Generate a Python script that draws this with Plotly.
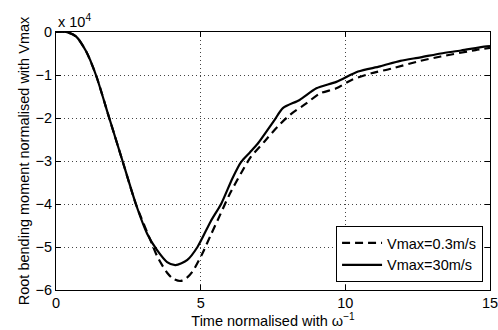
import plotly.graph_objects as go

# Time normalised with omega^-1
t_slow = [0, 0.35, 0.69, 1.04, 1.38, 1.84, 2.30, 2.76, 3.3, 3.5, 3.84, 4.05, 4.3, 4.5,
          4.71, 5.06, 5.35, 5.64, 5.98, 6.39, 6.74, 7.2, 7.66, 8.1, 8.65, 9.12, 9.69,
          10.2, 10.9, 11.6, 12.6, 13.3, 14.5, 15]
# Root bending moment (x 10^4), Vmax = 0.3 m/s
m_slow = [0, 0, -0.1, -0.45, -1.0, -2.0, -3.0, -4.0, -4.9, -5.22, -5.6, -5.74, -5.79, -5.73,
          -5.58, -5.15, -4.72, -4.3, -3.8, -3.29, -2.9, -2.55, -2.2, -1.92, -1.66, -1.43, -1.31,
          -1.12, -0.96, -0.85, -0.67, -0.57, -0.42, -0.37]

t_fast = [0, 0.35, 0.69, 1.04, 1.38, 1.84, 2.30, 2.76, 3.15, 3.5, 3.84, 4.13, 4.54, 4.89,
          5.35, 5.72, 6.1, 6.4, 6.7, 6.97, 7.55, 7.84, 8.42, 9.0, 9.69, 10.44, 11.2, 11.9, 12.6,
          13.3, 14.0, 14.8, 15]
# Root bending moment (x 10^4), Vmax = 30 m/s
m_fast = [0, 0, -0.1, -0.45, -1.0, -2.0, -3.0, -4.0, -4.69, -5.08, -5.35, -5.42, -5.3, -5.0,
          -4.4, -3.98, -3.4, -3.02, -2.8, -2.6, -2.05, -1.77, -1.58, -1.31, -1.16, -0.92, -0.8, -0.67, -0.59,
          -0.5, -0.43, -0.34, -0.33]

series_names = ["Vmax=0.3m/s", "Vmax=30m/s"]
x_ticks = [0, 5, 10, 15]
y_ticks = [0, -1, -2, -3, -4, -5, -6]

FONT = "Liberation Sans, Arial, Helvetica, sans-serif"
FS = 14.5

fig = go.Figure()
fig.add_trace(go.Scatter(x=t_slow, y=m_slow, mode="lines", name=series_names[0],
                         line=dict(color="black", width=2.2, dash="8px,5px",
                                   shape="spline", smoothing=0.7)))
fig.add_trace(go.Scatter(x=t_fast, y=m_fast, mode="lines", name=series_names[1],
                         line=dict(color="black", width=2.2, shape="spline", smoothing=0.7)))

axis_common = dict(showline=True, linecolor="black", linewidth=1, mirror="ticks",
                   ticks="inside", ticklen=5, tickcolor="black", tickwidth=1,
                   showgrid=True, gridcolor="#444", griddash="1px,3px", gridwidth=1,
                   zeroline=False, ticklabeloverflow="allow", automargin=False,
                   tickfont=dict(family=FONT, size=FS, color="black"))

fig.update_xaxes(range=[0, 15], tickvals=x_ticks,
                 title=dict(text="Time normalised with ω<sup>−1</sup>",
                            font=dict(family=FONT, size=FS, color="black"), standoff=0),
                 **axis_common)
fig.update_yaxes(range=[-6, 0], tickvals=y_ticks,
                 title=dict(text="Root bending moment normalised with Vmax",
                            font=dict(family=FONT, size=FS, color="black"), standoff=2),
                 **axis_common)

fig.add_annotation(text="x 10<sup>4</sup>", xref="paper", yref="paper", x=0, y=1,
                   xanchor="left", yanchor="bottom", showarrow=False, yshift=0,
                   font=dict(family=FONT, size=FS, color="black"))

fig.update_layout(
    width=498, height=330,
    margin=dict(l=56, r=8, t=32, b=40, autoexpand=False),
    plot_bgcolor="white", paper_bgcolor="white",
    font=dict(family=FONT, size=FS, color="black"),
    legend=dict(x=0.984, y=0.031, xanchor="right", yanchor="bottom",
                bgcolor="white", bordercolor="black", borderwidth=1,
                font=dict(family=FONT, size=FS, color="black"),
                tracegroupgap=0, itemwidth=40),
    showlegend=True,
)

fig.write_html("out.html")
